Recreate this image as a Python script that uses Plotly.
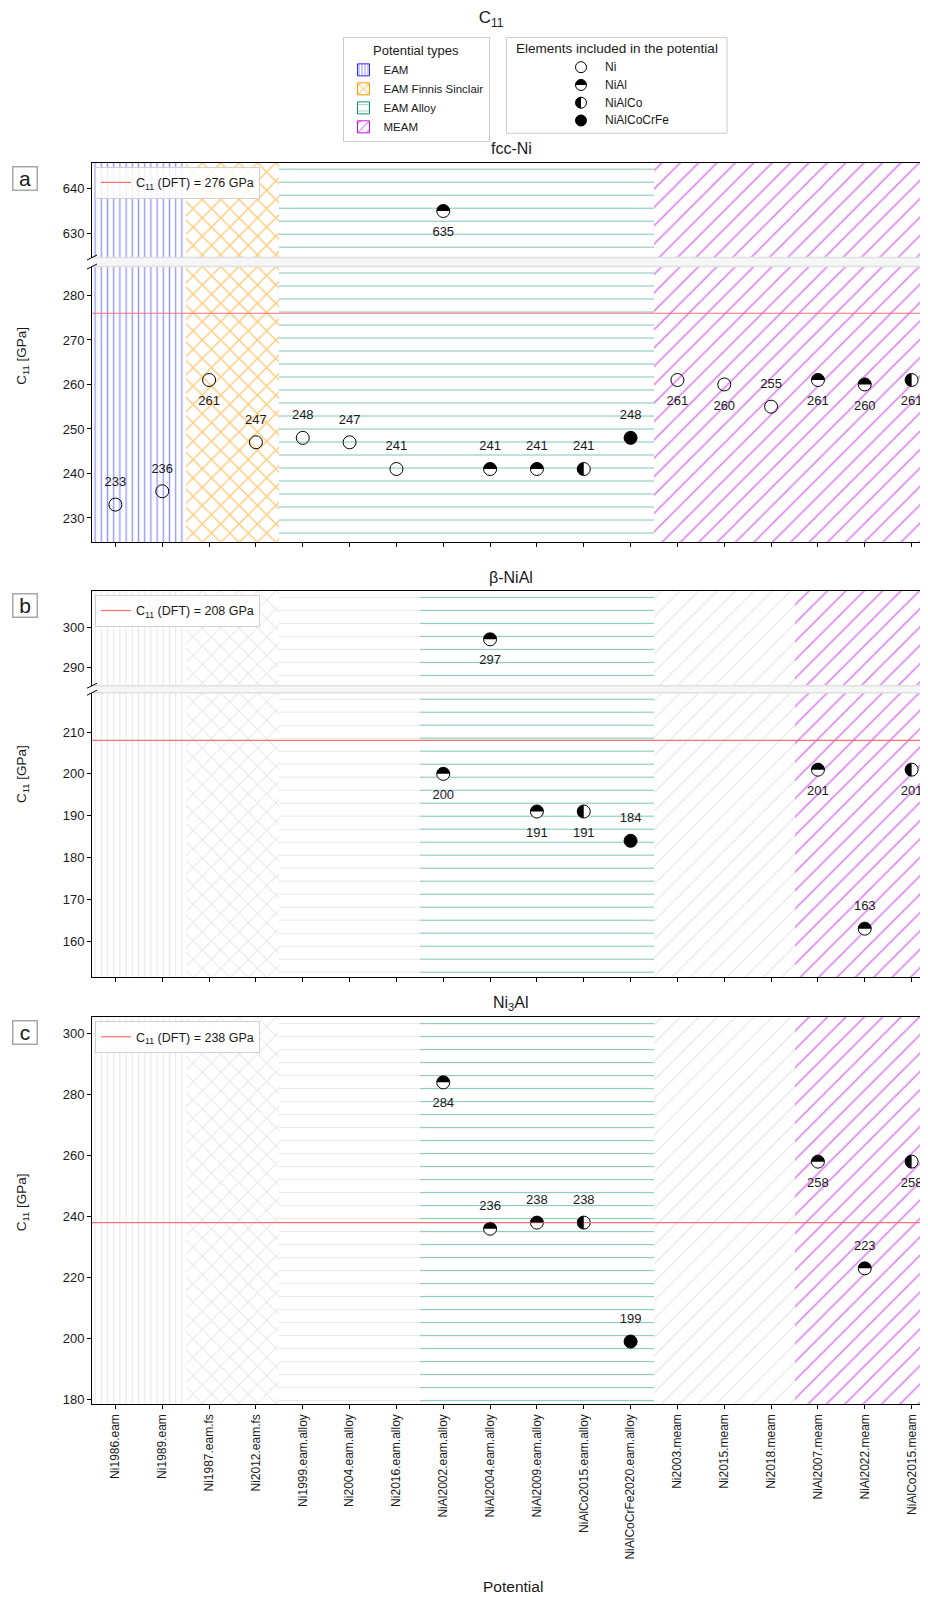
import plotly.graph_objects as go

# ---------------- data ----------------
potentials = ["Ni1986.eam", "Ni1989.eam", "Ni1987.eam.fs", "Ni2012.eam.fs",
              "Ni1999.eam.alloy", "Ni2004.eam.alloy", "Ni2016.eam.alloy", "NiAl2002.eam.alloy",
              "NiAl2004.eam.alloy", "NiAl2009.eam.alloy", "NiAlCo2015.eam.alloy",
              "NiAlCoCrFe2020.eam.alloy", "Ni2003.meam", "Ni2015.meam", "Ni2018.meam",
              "NiAl2007.meam", "NiAl2022.meam", "NiAlCo2015.meam"]
potential_types = ["EAM", "EAM", "EAM Finnis Sinclair", "EAM Finnis Sinclair",
                   "EAM Alloy", "EAM Alloy", "EAM Alloy", "EAM Alloy", "EAM Alloy", "EAM Alloy",
                   "EAM Alloy", "EAM Alloy", "MEAM", "MEAM", "MEAM", "MEAM", "MEAM", "MEAM"]
elements = ["Ni", "Ni", "Ni", "Ni", "Ni", "Ni", "Ni", "NiAl", "NiAl", "NiAl", "NiAlCo",
            "NiAlCoCrFe", "Ni", "Ni", "Ni", "NiAl", "NiAl", "NiAlCo"]

c11_fcc_ni = [233, 236, 261, 247, 248, 247, 241, 635, 241, 241, 241, 248, 261, 260, 255, 261, 260, 261]
c11_beta_nial = [None, None, None, None, None, None, None, 200, 297, 191, 191, 184,
                 None, None, None, 201, 163, 201]
c11_ni3al = [None, None, None, None, None, None, None, 284, 236, 238, 238, 199,
             None, None, None, 258, 223, 258]
c11_dft = [276, 208, 238]

# label placement (style)
pos_fcc_ni = ["top", "top", "bottom", "top", "top", "top", "top", "bottom", "top", "top", "top", "top",
              "bottom", "bottom", "top", "bottom", "bottom", "bottom"]
pos_beta_nial = ["top"] * 7 + ["bottom", "bottom", "bottom", "bottom", "top"] + ["top"] * 3 + ["bottom", "top", "bottom"]
pos_ni3al = ["top"] * 7 + ["bottom", "top", "top", "top", "top"] + ["top"] * 3 + ["bottom", "top", "bottom"]

# ---------------- style ----------------
OFF = 8                      # page body margin of the html page
W, H = 928 - OFF, 1600 - OFF
FONT = "Liberation Sans"
TXT = "#1a1a1a"
X0 = 92
XR = [-0.5, 17.35]
RED = "#ff7070"
GRAY = "#d2d2d2"
TYPE_STYLE = {
    "EAM": dict(shape="|", size=6.2, solidity=0.22, color="#2a2aff"),
    "EAM Finnis Sinclair": dict(shape="x", size=13, solidity=0.22, color="#ff9a00"),
    "EAM Alloy": dict(shape="-", size=13, solidity=0.085, color="#10907c"),
    "MEAM": dict(shape="/", size=13, solidity=0.13, color="#c010e6"),
}
GRAY_SOLIDITY = {"EAM": 0.18, "EAM Finnis Sinclair": 0.17, "EAM Alloy": 0.078, "MEAM": 0.1}
EL_STYLE = {
    "Ni": ("circle-open", "black", None),
    "NiAl": ("circle", "white", "top"),
    "NiAlCo": ("circle", "white", "left"),
    "NiAlCoCrFe": ("circle", "black", None),
}
K = 0.5523


def half_path(r, kind):
    a = K * r
    if kind == "top":
        return (f"M {-r},0 C {-r},{a:.2f} {-a:.2f},{r} 0,{r} "
                f"C {a:.2f},{r} {r},{a:.2f} {r},0 Z")
    return (f"M 0,{r} C {-a:.2f},{r} {-r},{a:.2f} {-r},0 "
            f"C {-r},{-a:.2f} {-a:.2f},{-r} 0,{-r} Z")


def pxx(p):
    return (p - OFF) / W


def py(p):
    return 1 - (p - OFF) / H


panels = [
    dict(title="fcc-Ni", label="a", values=c11_fcc_ni, dft=c11_dft[0], pos=pos_fcc_ni,
         ytitle_y=357, title_y=149, label_y=178.5,
         axes=[dict(n=1, top=163, bottom=258, rng=(624.7, 645.7), dtick=10),
               dict(n=2, top=267, bottom=543, rng=(224.6, 286.5), dtick=10)]),
    dict(title="β-NiAl", label="b", values=c11_beta_nial, dft=c11_dft[1], pos=pos_beta_nial,
         ytitle_y=776, title_y=579, label_y=606.5,
         axes=[dict(n=3, top=592, bottom=687, rng=(285.6, 308.9), dtick=10),
               dict(n=4, top=694, bottom=979, rng=(151.4, 219.4), dtick=10)]),
    dict(title="Ni<sub>3</sub>Al", label="c", values=c11_ni3al, dft=c11_dft[2], pos=pos_ni3al,
         ytitle_y=1205, title_y=1005.6, label_y=1034.5,
         axes=[dict(n=5, top=1019, bottom=1407, rng=(178.4, 305.4), dtick=20)]),
]

fig = go.Figure()
layout = {}
shapes = []
annotations = []


def refs(n):
    return ("x", "y") if n == 1 else (f"x{n}", f"y{n}")


# legend entries for the potential types (legend-only bars)
for t in dict.fromkeys(potential_types):
    st = TYPE_STYLE[t]
    fig.add_trace(go.Bar(
        x=[None], y=[None], name=t, legend="legend", hoverinfo="skip",
        marker=dict(color="white", line=dict(color=st["color"], width=1),
                    pattern=dict(shape=st["shape"], size=st["size"] * 0.6, solidity=st["solidity"] * 1.5,
                                 fgcolor=st["color"], bgcolor="white", fillmode="overlay")),
        xaxis="x2", yaxis="y2"))

for pi, p in enumerate(panels):
    vals = p["values"]
    active = [v is not None for v in vals]
    runs = []
    start = 0
    for i in range(1, len(potentials) + 1):
        if i == len(potentials) or potential_types[i] != potential_types[start] or active[i] != active[start]:
            runs.append((start, i - 1, potential_types[start], active[start]))
            start = i
    naxes = len(p["axes"])
    for ai, ax in enumerate(p["axes"]):
        n = ax["n"]
        xr_, yr_ = refs(n)
        lo, hi = ax["rng"]
        span = hi - lo
        is_upper = naxes == 2 and ai == 0
        is_lower_broken = naxes == 2 and ai == 1
        # background hatched regions
        for (s, e, t, act) in runs:
            st = TYPE_STYLE[t]
            col = st["color"] if act else GRAY
            fig.add_trace(go.Bar(
                x=[(s + e) / 2], width=[e - s + 1], base=[lo - span * 0.05], y=[span * 1.1],
                marker=dict(color="white", line=dict(width=0),
                            pattern=dict(shape=st["shape"], size=st["size"],
                                         solidity=st["solidity"] if act else GRAY_SOLIDITY[t],
                                         fgcolor=col, bgcolor="white", fillmode="overlay")),
                name=t, showlegend=False, hoverinfo="skip", xaxis=xr_, yaxis=yr_))
        # DFT line
        if lo <= p["dft"] <= hi:
            shapes.append(dict(type="line", xref=f"{xr_} domain", x0=0, x1=1, yref=yr_,
                               y0=p["dft"], y1=p["dft"], line=dict(color=RED, width=1.2), layer="above"))
        if ai == 0:
            fig.add_trace(go.Scatter(x=[None], y=[None], mode="lines", line=dict(color=RED, width=1.2),
                                     name=f"C<sub>11</sub> (DFT) = {p['dft']} GPa",
                                     legend=f"legend{pi + 2}", xaxis=xr_, yaxis=yr_))
        # points
        idx = [i for i, v in enumerate(vals) if v is not None and lo <= v <= hi]
        if idx:
            fig.add_trace(go.Scatter(
                x=idx, y=[vals[i] for i in idx], mode="markers",
                marker=dict(symbol=[EL_STYLE[elements[i]][0] for i in idx],
                            color=[EL_STYLE[elements[i]][1] for i in idx],
                            size=13, line=dict(color="black", width=1)),
                showlegend=False, hoverinfo="skip", xaxis=xr_, yaxis=yr_))
            fig.add_trace(go.Scatter(
                x=idx, y=[vals[i] for i in idx], mode="markers+text",
                marker=dict(size=23, color="rgba(0,0,0,0)"),
                text=[str(vals[i]) for i in idx],
                textposition=[p["pos"][i] + " center" for i in idx],
                textfont=dict(size=13, color=TXT, family=FONT),
                showlegend=False, hoverinfo="skip", xaxis=xr_, yaxis=yr_))
            for i in idx:
                kind = EL_STYLE[elements[i]][2]
                if kind:
                    shapes.append(dict(type="path", xref=xr_, yref=yr_, xsizemode="pixel", ysizemode="pixel",
                                       xanchor=i, yanchor=vals[i], path=half_path(6.5, kind),
                                       fillcolor="black", line=dict(width=0), layer="above"))
        # axes
        xkey = "xaxis" if n == 1 else f"xaxis{n}"
        ykey = "yaxis" if n == 1 else f"yaxis{n}"
        xa = dict(domain=[pxx(X0), 1], range=XR, anchor=yr_, showgrid=False, zeroline=False,
                  tickmode="array", tickvals=list(range(len(potentials))), ticktext=potentials,
                  showline=True, linecolor="black", linewidth=1, color=TXT,
                  tickfont=dict(size=12, family=FONT, color=TXT))
        if is_upper:
            xa.update(side="top", ticks="", showticklabels=False)
        elif is_lower_broken:
            xa.update(ticks="outside", ticklen=4, tickcolor="black", showticklabels=False)
        else:
            xa.update(ticks="outside", ticklen=4, tickcolor="black", showticklabels=True,
                      tickangle=-90, mirror=True)
        layout[xkey] = xa
        layout[ykey] = dict(domain=[py(ax["bottom"]), py(ax["top"])], range=[lo, hi], anchor=xr_,
                            showgrid=False, zeroline=False, showline=True, linecolor="black",
                            linewidth=1, ticks="outside", ticklen=4, tickcolor="black",
                            tick0=0, dtick=ax["dtick"],
                            tickfont=dict(size=13, family=FONT, color=TXT))
    # broken axis decorations
    if naxes == 2:
        up, lw = p["axes"]
        shapes.append(dict(type="rect", xref="paper", yref="paper", x0=pxx(X0), x1=1,
                           y0=py(lw["top"]), y1=py(up["bottom"]), fillcolor="#f6f6f6",
                           line=dict(width=0), layer="above"))
        for yy in (up["bottom"], lw["top"]):
            shapes.append(dict(type="line", xref="paper", yref="paper", x0=pxx(X0), x1=1,
                               y0=py(yy), y1=py(yy), line=dict(color="#e0e0e0", width=1.5), layer="above"))
            shapes.append(dict(type="line", xref="paper", yref="paper", x0=pxx(X0 - 5), x1=pxx(X0 + 5),
                               y0=py(yy + 2.5), y1=py(yy - 2.5), line=dict(color="black", width=1),
                               layer="above"))
    # panel title, label, y title
    annotations.append(dict(text=p["title"], xref="paper", yref="paper", x=pxx(511), y=py(p["title_y"]),
                            showarrow=False, font=dict(size=16, family=FONT, color=TXT),
                            xanchor="center", yanchor="middle"))
    annotations.append(dict(text=p["label"], xref="paper", yref="paper", x=pxx(25), y=py(p["label_y"]),
                            showarrow=False, font=dict(size=21, family=FONT, color=TXT),
                            xanchor="center", yanchor="middle", bordercolor="#a8a8a8", borderwidth=1.5,
                            borderpad=0, width=23, height=22, bgcolor="white"))
    annotations.append(dict(text="C<sub>11</sub> [GPa]", xref="paper", yref="paper", x=pxx(22.5),
                            y=py(p["ytitle_y"]), showarrow=False, textangle=-90,
                            font=dict(size=13.5, family=FONT, color=TXT), xanchor="center", yanchor="middle"))
    top_ax = p["axes"][0]
    layout[f"legend{pi + 2}"] = dict(x=pxx(X0 + 3), y=py(top_ax["top"] + 4), xanchor="left", yanchor="top",
                                     bgcolor="rgba(255,255,255,0.85)", bordercolor="#d0d0d0", borderwidth=1,
                                     font=dict(size=12.5, family=FONT, color=TXT), itemwidth=30)

# x axis title
annotations.append(dict(text="Potential", xref="paper", yref="paper", x=pxx(513.5), y=py(1589.6),
                        showarrow=False, font=dict(size=15.5, family=FONT, color=TXT),
                        xanchor="center", yanchor="middle"))

# ---------------- elements legend (manual) ----------------
el_kinds = list(dict.fromkeys(elements))
bx0, bx1, by0, by1 = 506.5, 727, 37.5, 133.5
shapes.append(dict(type="rect", xref="paper", yref="paper", x0=pxx(bx0), x1=pxx(bx1), y0=py(by1), y1=py(by0),
                   fillcolor="white", line=dict(color="#cccccc", width=1), layer="above"))
annotations.append(dict(text="Elements included in the potential", xref="paper", yref="paper",
                        x=pxx((bx0 + bx1) / 2), y=py(48.5), showarrow=False,
                        font=dict(size=13.5, family=FONT, color=TXT), xanchor="center", yanchor="middle"))
for j, el in enumerate(el_kinds):
    yy = 67.3 + j * 17.8
    sym, col, kind = EL_STYLE[el]
    r = 5.5
    shapes.append(dict(type="circle", xref="paper", yref="paper", xsizemode="pixel", ysizemode="pixel",
                       xanchor=pxx(581), yanchor=py(yy), x0=-r, x1=r, y0=-r, y1=r,
                       fillcolor=("black" if col == "black" and sym == "circle" else "white"),
                       line=dict(color="black", width=1), layer="above"))
    if kind:
        shapes.append(dict(type="path", xref="paper", yref="paper", xsizemode="pixel", ysizemode="pixel",
                           xanchor=pxx(581), yanchor=py(yy), path=half_path(r, kind),
                           fillcolor="black", line=dict(width=0), layer="above"))
    annotations.append(dict(text=el, xref="paper", yref="paper", x=pxx(603), y=py(yy), showarrow=False,
                            font=dict(size=12, family=FONT, color=TXT), xanchor="left", yanchor="middle"))

layout["legend"] = dict(x=pxx(342.5), y=py(37.5), xanchor="left", yanchor="top",
                        title=dict(text="Potential types", side="top center",
                                   font=dict(size=13, family=FONT, color=TXT)),
                        font=dict(size=11.5, family=FONT, color=TXT), bgcolor="white",
                        bordercolor="#cccccc", borderwidth=1, tracegroupgap=0, traceorder="normal",
                        itemwidth=30)

fig.update_layout(
    width=W, height=H, autosize=False,
    margin=dict(l=0, r=0, t=0, b=0),
    paper_bgcolor="white", plot_bgcolor="white",
    font=dict(family=FONT, color=TXT, size=12),
    barmode="overlay", bargap=0,
    title=dict(text="C<sub>11</sub>", x=pxx(491), y=py(17.5), xanchor="center", yanchor="middle",
               font=dict(size=17, family=FONT, color=TXT)),
    shapes=shapes, annotations=annotations,
    **layout,
)

fig.write_html("out.html")
